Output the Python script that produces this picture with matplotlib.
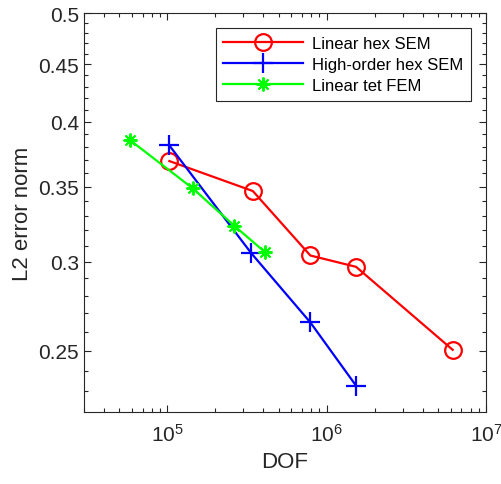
import matplotlib
matplotlib.use('Agg')
import matplotlib.pyplot as plt
from matplotlib.ticker import FixedLocator, FixedFormatter, LogLocator, NullFormatter

plt.rcParams['font.family'] = ['Liberation Sans', 'DejaVu Sans']
plt.rcParams['mathtext.fontset'] = 'custom'
plt.rcParams['mathtext.rm'] = 'Liberation Sans'
plt.rcParams['mathtext.it'] = 'Liberation Sans:italic'

# data
hex_dof = [1.03e5, 3.44e5, 7.9e5, 1.53e6, 6.18e6]
hex_err = [0.369, 0.347, 0.304, 0.297, 0.2505]

ho_dof = [1.03e5, 3.36e5, 7.9e5, 1.53e6]
ho_err = [0.381, 0.3055, 0.265, 0.2327]

tet_dof = [5.86e4, 1.44e5, 2.64e5, 4.11e5]
tet_err = [0.385, 0.349, 0.323, 0.306]

ytick_vals = [0.25, 0.3, 0.35, 0.4, 0.45, 0.5]
ytick_labels = ['0.25', '0.3', '0.35', '0.4', '0.45', '0.5']
xtick_vals = [1e5, 1e6, 1e7]
xtick_labels = [r'$\mathrm{10^5}$', r'$\mathrm{10^6}$', r'$\mathrm{10^7}$']

dark = '#262626'

fig = plt.figure(figsize=(5.01, 4.85), dpi=100)
ax = fig.add_axes([84/501, 1 - 413/485, (486-84)/501, (413-14)/485])

ax.plot(hex_dof, hex_err, '-o', color='red', lw=1.6, ms=12, mfc='none', mew=1.6,
        label='Linear hex SEM')
ax.plot(ho_dof, ho_err, '-+', color='blue', lw=1.6, ms=14, mew=1.6,
        label='High-order hex SEM')
ax.plot(tet_dof, tet_err, '-', marker=(8, 2, 0), color='#00ff00', lw=1.6, ms=10, mew=1.4,
        label='Linear tet FEM')

ax.set_xscale('log')
ax.set_yscale('log')
ax.set_xlim(3e4, 1e7)
ax.set_ylim(0.2205, 0.5)

ax.yaxis.set_major_locator(FixedLocator(ytick_vals))
ax.yaxis.set_major_formatter(FixedFormatter(ytick_labels))
ax.yaxis.set_minor_locator(FixedLocator([v / 100 for v in range(23, 50)]))
ax.yaxis.set_minor_formatter(NullFormatter())

ax.xaxis.set_major_locator(FixedLocator(xtick_vals))
ax.xaxis.set_major_formatter(FixedFormatter(xtick_labels))
ax.xaxis.set_minor_locator(LogLocator(base=10, subs=range(2, 10), numticks=20))
ax.xaxis.set_minor_formatter(NullFormatter())

ax.tick_params(which='both', direction='in', top=True, right=True, colors=dark,
               labelcolor=dark, labelsize=15, width=0.8)
ax.tick_params(which='major', length=5)
ax.tick_params(which='minor', length=3)
ax.tick_params(axis='x', pad=8)
for s in ax.spines.values():
    s.set_color(dark)
    s.set_linewidth(0.8)

ax.set_xlabel('DOF', fontsize=16, color=dark)
ax.set_ylabel('L2 error norm', fontsize=16, color=dark)

leg = ax.legend(loc='upper right', bbox_to_anchor=(0.963, 0.962), borderaxespad=0,
                fontsize=12, fancybox=False, framealpha=1, handlelength=4.8,
                labelspacing=0.38, borderpad=0.45, handletextpad=0.55)
leg.get_frame().set_edgecolor(dark)
leg.get_frame().set_linewidth(0.8)

fig.savefig('out.png', dpi=100)
